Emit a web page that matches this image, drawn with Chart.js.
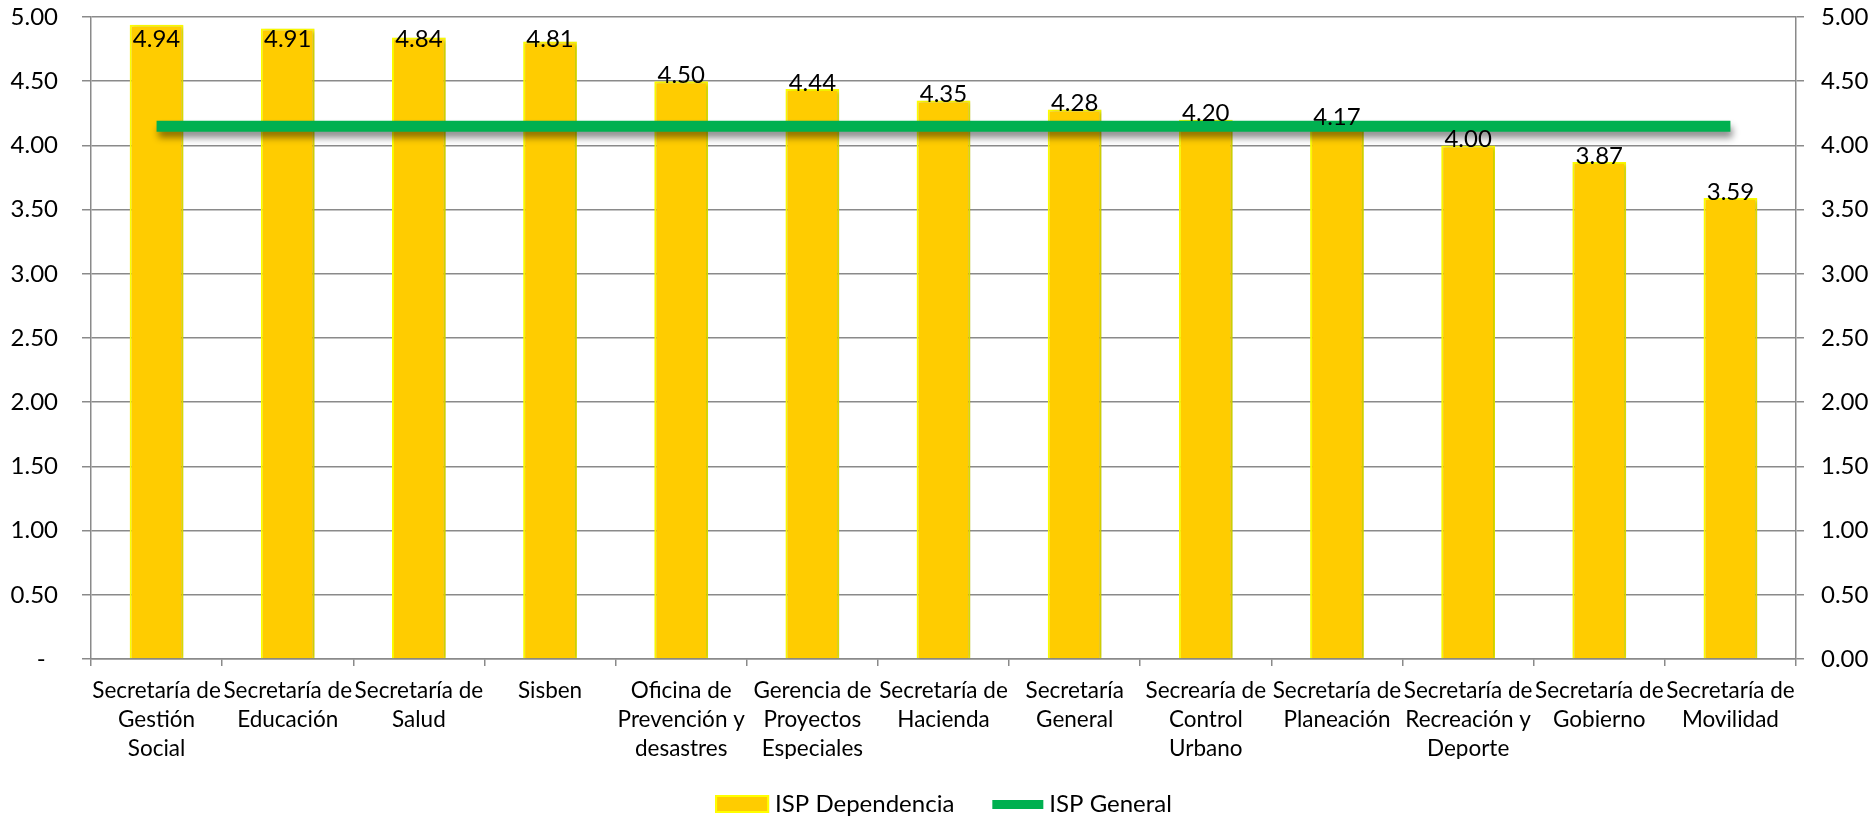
<!DOCTYPE html>
<html>
<head>
<meta charset="utf-8">
<script src="https://cdn.jsdelivr.net/npm/chart.js@4.4.1/dist/chart.umd.min.js"></script>
<style>
  body { margin: 0; background: #fff; }
  #wrap { width: 1874px; height: 816px; position: relative; }
</style>
</head>
<body>
<div id="wrap"><canvas id="myChart"></canvas></div>
<script>
// ISP por dependencia vs ISP general
const labels = [
    ['Secretaría de', 'Gestión', 'Social'],
    ['Secretaría de', 'Educación'],
    ['Secretaría de', 'Salud'],
    ['Sisben'],
    ['Oficina de', 'Prevención y', 'desastres'],
    ['Gerencia de', 'Proyectos', 'Especiales'],
    ['Secretaría de', 'Hacienda'],
    ['Secretaría', 'General'],
    ['Secrearía de', 'Control', 'Urbano'],
    ['Secretaría de', 'Planeación'],
    ['Secretaría de', 'Recreación y', 'Deporte'],
    ['Secretaría de', 'Gobierno'],
    ['Secretaría de', 'Movilidad']
];
const ispDependencia = [4.94, 4.91, 4.84, 4.81, 4.50, 4.44, 4.35, 4.28, 4.20, 4.17, 4.00, 3.87, 3.59];
const ispGeneral = [4.15, 4.15, 4.15, 4.15, 4.15, 4.15, 4.15, 4.15, 4.15, 4.15, 4.15, 4.15, 4.15];
const axisMin = 0;
const axisMax = 5;
const axisStep = 0.5;

const FONT = 'Lato';
const gridColor = '#8a8a8a';

// drop shadows for bars and the green line
const shadowPlugin = {
    id: 'shadows',
    beforeDatasetDraw(chart, args) {
        const ctx = chart.ctx;
        ctx.save();
        if (args.meta.type === 'line') {
            ctx.shadowColor = 'rgba(0,0,0,0.45)';
            ctx.shadowBlur = 7;
            ctx.shadowOffsetX = 2;
            ctx.shadowOffsetY = 6;
        } else {
            ctx.shadowColor = 'rgba(0,0,0,0.25)';
            ctx.shadowBlur = 4;
            ctx.shadowOffsetX = 2;
            ctx.shadowOffsetY = 1;
        }
    },
    afterDatasetDraw(chart) {
        chart.ctx.restore();
    }
};

// value labels on top of the bars
const valueLabels = {
    id: 'valueLabels',
    afterDatasetsDraw(chart) {
        const ctx = chart.ctx;
        const meta = chart.getDatasetMeta(0);
        const top = chart.chartArea.top;
        ctx.save();
        ctx.font = '24px ' + FONT;
        ctx.fillStyle = '#000';
        ctx.textAlign = 'center';
        ctx.textBaseline = 'middle';
        meta.data.forEach(function (bar, i) {
            const y = Math.max(bar.y - 6, top + 22);
            ctx.fillText(ispDependencia[i].toFixed(2), bar.x, y);
        });
        ctx.restore();
    }
};

// legend under the axis labels
const bottomLegend = {
    id: 'bottomLegend',
    afterDraw(chart) {
        const ctx = chart.ctx;
        const ds = chart.data.datasets;
        const area = chart.chartArea;
        ctx.save();
        ctx.font = '24px ' + FONT;
        ctx.textBaseline = 'middle';
        const cy = 804;
        const w1 = ctx.measureText(ds[0].label).width;
        const w2 = ctx.measureText(ds[1].label).width;
        const total = 54 + 6 + w1 + 38 + 51 + 6 + w2;
        let x = (area.left + area.right) / 2 - total / 2;

        ctx.fillStyle = '#FFCC00';
        ctx.fillRect(x, cy - 9, 54, 18);
        ctx.strokeStyle = '#FFFF00';
        ctx.lineWidth = 2;
        ctx.strokeRect(x + 1, cy - 8, 52, 16);
        x += 60;
        ctx.fillStyle = '#000';
        ctx.fillText(ds[0].label, x, cy);
        x += w1 + 38;

        ctx.fillStyle = '#00B050';
        ctx.fillRect(x, cy - 4, 51, 9);
        x += 57;
        ctx.fillStyle = '#000';
        ctx.fillText(ds[1].label, x, cy);
        ctx.restore();
    }
};

// fixed axis sizes so the plot area lands where it should
function fixWidth(w) {
    return function (scale) {
        scale.width = w;
        scale.paddingTop = 0;
        scale.paddingBottom = 0;
    };
}

const ctx = document.getElementById('myChart').getContext('2d');
const myChart = new Chart(ctx, {
    type: 'bar',
    data: {
        labels: labels,
        datasets: [{
            label: 'ISP Dependencia',
            data: ispDependencia,
            backgroundColor: '#FFCC00',
            borderColor: '#FFFF00',
            borderWidth: 2,
            barPercentage: 0.41,
            categoryPercentage: 1,
            yAxisID: 'y',
            order: 2
        }, {
            type: 'line',
            label: 'ISP General',
            data: ispGeneral,
            borderColor: '#00B050',
            backgroundColor: '#00B050',
            borderWidth: 11,
            borderCapStyle: 'butt',
            pointRadius: 0,
            tension: 0,
            yAxisID: 'y',
            order: 1
        }]
    },
    options: {
        responsive: true,
        maintainAspectRatio: false,
        animation: false,
        layout: {
            padding: { top: 17, left: 0, right: 0, bottom: 57 }
        },
        plugins: {
            legend: { display: false },
            tooltip: { enabled: false }
        },
        scales: {
            x: {
                offset: true,
                afterFit: function (scale) {
                    scale.height = 100;
                    scale.paddingLeft = 0;
                    scale.paddingRight = 0;
                },
                grid: {
                    offset: true,
                    drawOnChartArea: false,
                    drawTicks: true,
                    tickLength: 7,
                    color: gridColor,
                    lineWidth: 1.5
                },
                border: { display: true, color: gridColor, width: 1.5 },
                ticks: {
                    color: '#000',
                    font: { family: FONT, size: 22.5, lineHeight: 1.3 },
                    padding: 10,
                    maxRotation: 0,
                    autoSkip: false
                }
            },
            y: {
                position: 'left',
                min: axisMin,
                max: axisMax,
                afterFit: fixWidth(91),
                grid: {
                    color: gridColor,
                    lineWidth: 1.5,
                    tickLength: 9
                },
                border: { display: true, color: gridColor, width: 1.5 },
                ticks: {
                    stepSize: axisStep,
                    color: '#000',
                    font: { family: FONT, size: 24 },
                    padding: 24,
                    callback: function (value) {
                        // zero shows as a dash, accounting style
                        return value === 0 ? '-  ' : value.toFixed(2);
                    }
                }
            },
            y2: {
                position: 'right',
                min: axisMin,
                max: axisMax,
                afterFit: fixWidth(78),
                grid: {
                    drawOnChartArea: false,
                    color: gridColor,
                    lineWidth: 1.5,
                    tickLength: 8
                },
                border: { display: true, color: gridColor, width: 1.5 },
                ticks: {
                    stepSize: axisStep,
                    color: '#000',
                    font: { family: FONT, size: 24 },
                    padding: 17,
                    callback: function (value) {
                        return value.toFixed(2);
                    }
                }
            }
        }
    },
    plugins: [shadowPlugin, valueLabels, bottomLegend]
});
</script>
</body>
</html>
